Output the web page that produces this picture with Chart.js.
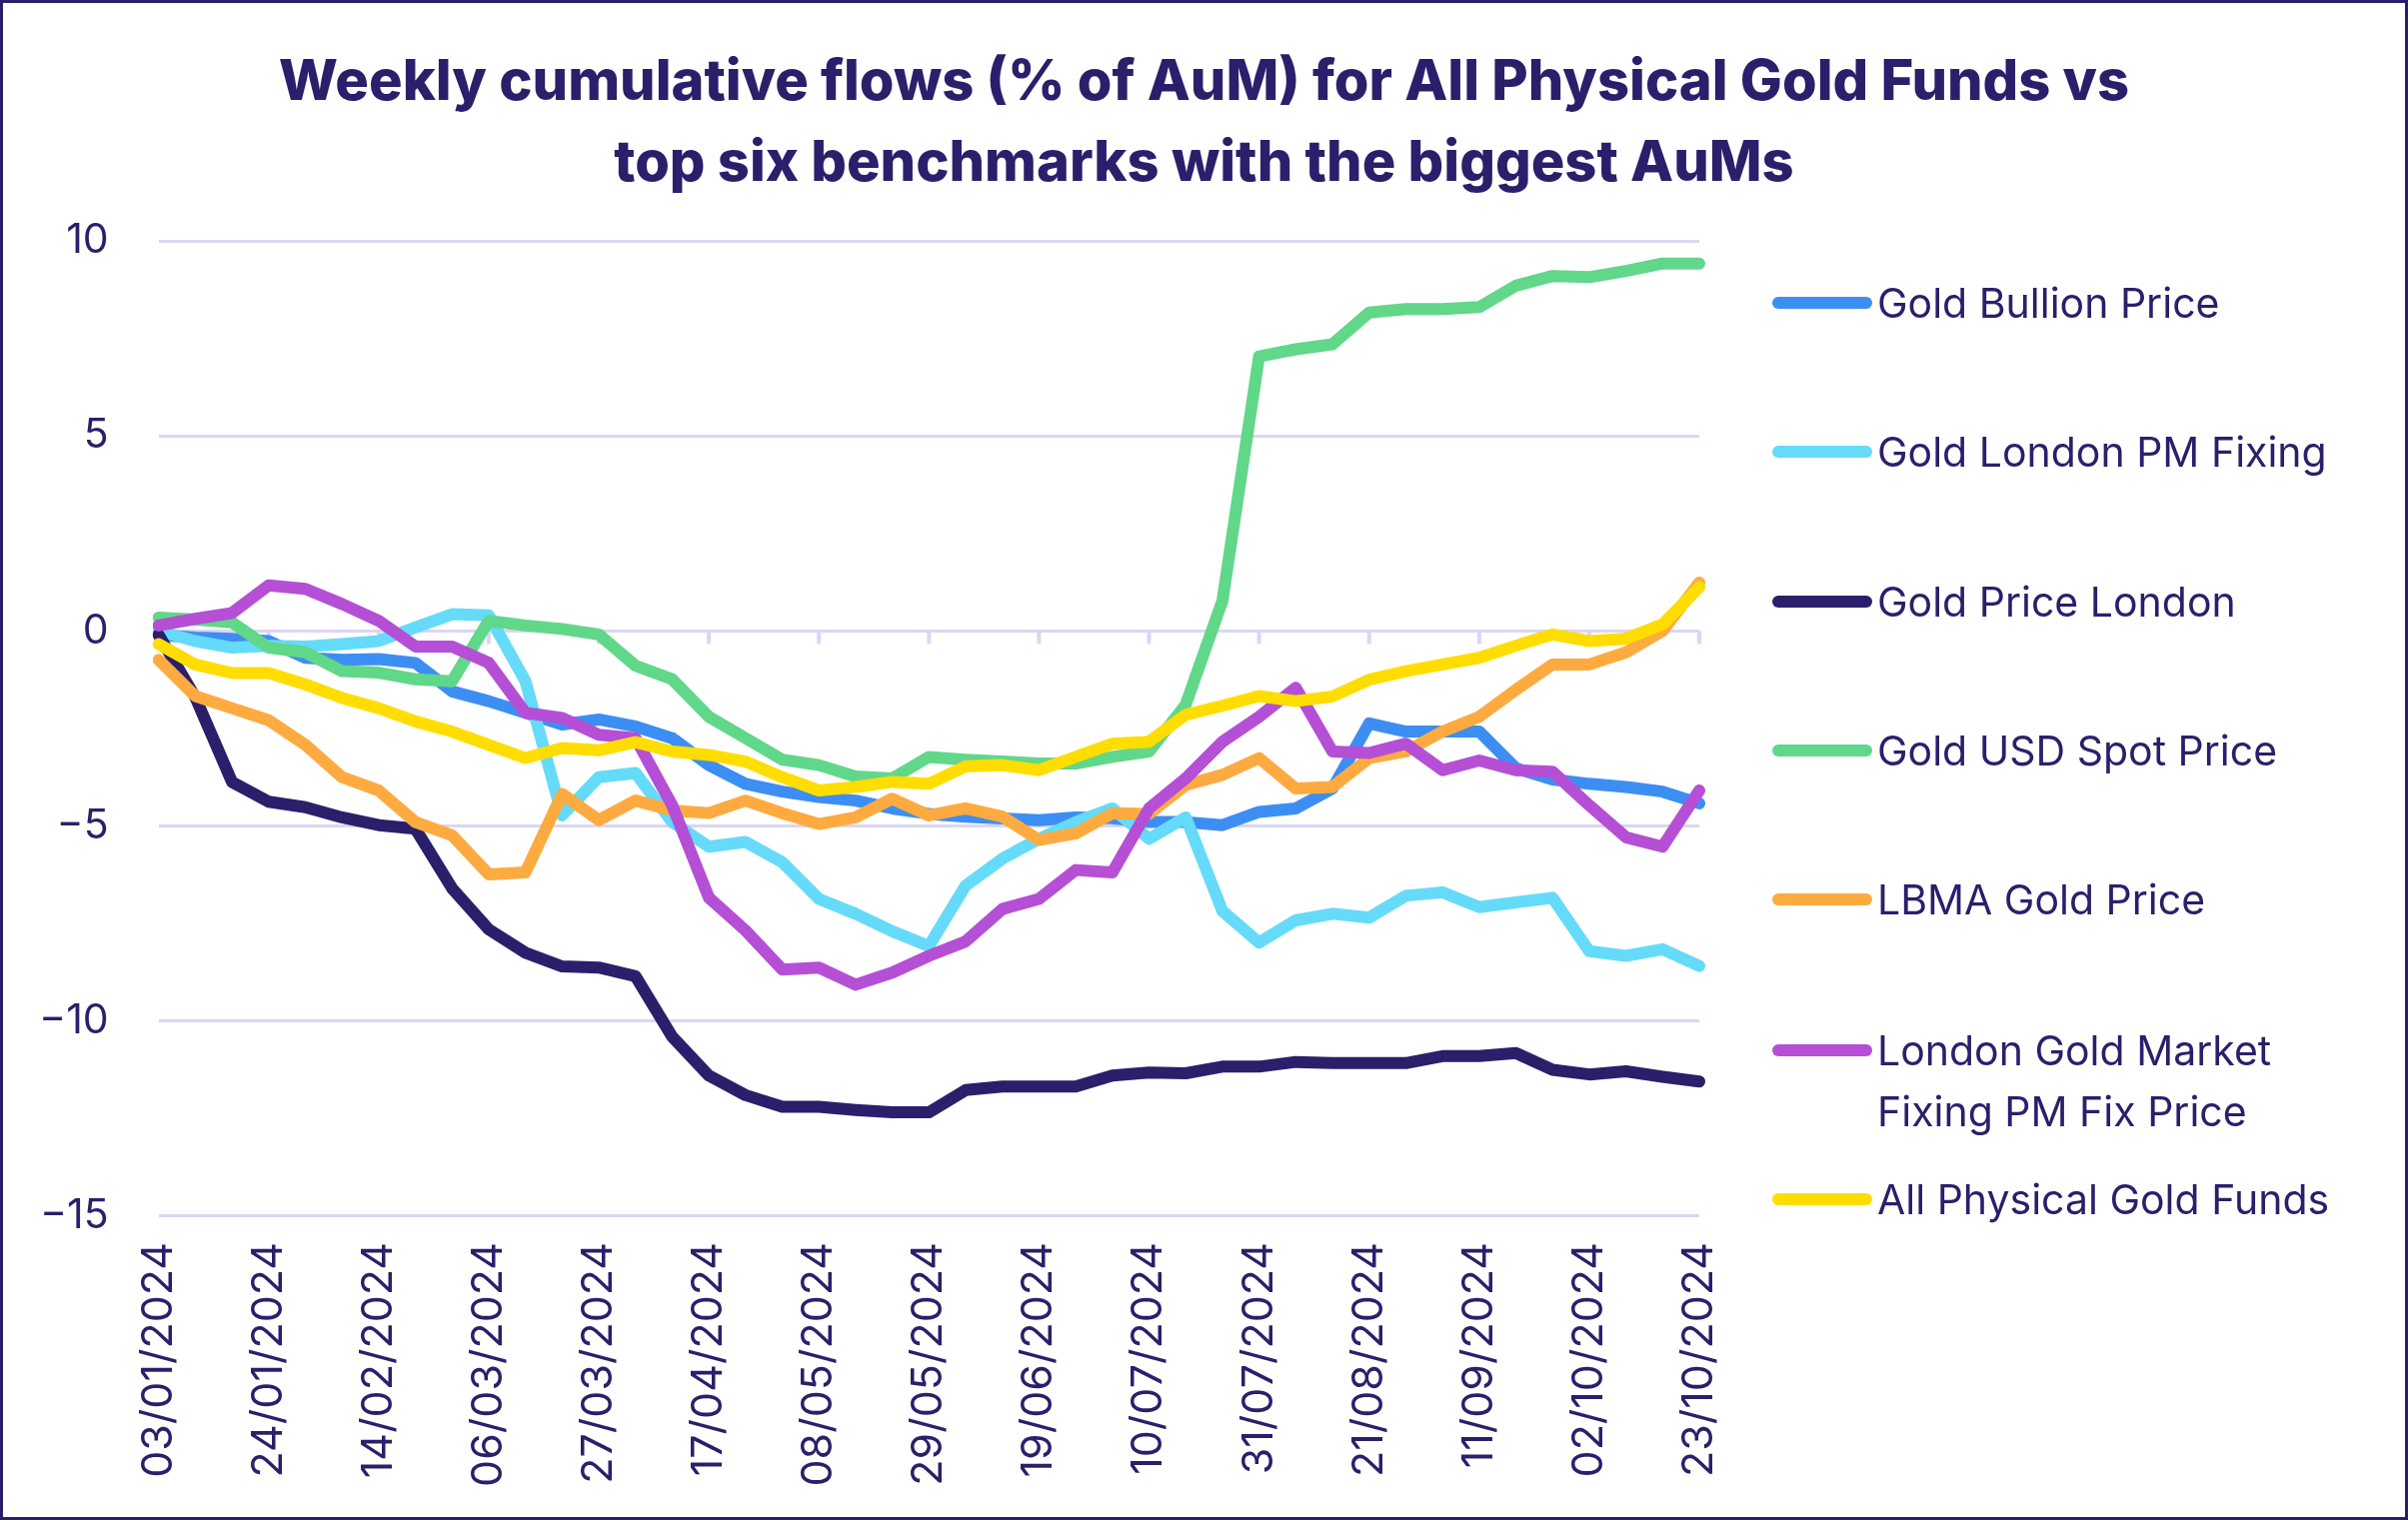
<!DOCTYPE html>
<html>
<head>
<meta charset="utf-8">
<script src="https://cdn.jsdelivr.net/npm/chart.js@4.4.1/dist/chart.umd.min.js"></script>
<style>
  html, body { margin: 0; padding: 0; background: #fff; }
  #wrap { position: relative; width: 2409px; height: 1521px; overflow: hidden; background: #fff; }
  #chartBox { position: absolute; left: 0; top: 0; width: 2409px; height: 1521px; }
  #frame { position: absolute; left: 0; top: 0; width: 2409px; height: 1521px; box-sizing: border-box; border: 3px solid #2B1F6B; pointer-events: none; }
  #title { position: absolute; left: 0; top: 40px; width: 2409px; text-align: center; font-family: Inter, 'Noto Sans', sans-serif;
           font-weight: 800; font-size: 56px; line-height: 81px; color: #2B1F6B; }
  .legItem { position: absolute; left: 1773px; font-family: Inter, 'Noto Sans', sans-serif; font-size: 41px; line-height: 61px; color: #2B1F6B; }
  .legLine { position: absolute; left: 0; top: 24px; width: 100px; height: 12px; border-radius: 6px; }
  .legText { position: absolute; left: 105px; top: 0; white-space: nowrap; }
</style>
</head>
<body>
<div id="wrap">
  <div id="chartBox"><canvas id="flowChart" width="2409" height="1521"></canvas></div>
  <div id="title"></div>
  <div id="legend"></div>
  <div id="frame"></div>
</div>
<script>
const titleLines = ['Weekly cumulative flows (% of AuM) for All Physical Gold Funds vs', 'top six benchmarks with the biggest AuMs'];

const weekLabels = ['03/01/2024','10/01/2024','17/01/2024','24/01/2024','31/01/2024','07/02/2024','14/02/2024','21/02/2024','28/02/2024',
    '06/03/2024','13/03/2024','20/03/2024','27/03/2024','03/04/2024','10/04/2024','17/04/2024','24/04/2024','01/05/2024',
    '08/05/2024','15/05/2024','22/05/2024','29/05/2024','05/06/2024','12/06/2024','19/06/2024','26/06/2024','03/07/2024',
    '10/07/2024','17/07/2024','24/07/2024','31/07/2024','07/08/2024','14/08/2024','21/08/2024','28/08/2024','04/09/2024',
    '11/09/2024','18/09/2024','25/09/2024','02/10/2024','09/10/2024','16/10/2024','23/10/2024'];

const goldBullion = [-0.10,-0.17,-0.20,-0.26,-0.69,-0.74,-0.72,-0.82,-1.55,-1.80,-2.10,-2.40,-2.27,-2.45,-2.75,-3.44,-3.92,-4.12,-4.26,-4.35,-4.55,-4.69,
    -4.76,-4.81,-4.85,-4.78,-4.80,-4.90,-4.90,-4.98,-4.64,-4.55,-4.04,-2.37,-2.58,-2.58,-2.58,-3.52,-3.81,-3.92,-4.00,-4.12,-4.42];
const goldLondonPm = [0.00,-0.26,-0.43,-0.38,-0.40,-0.34,-0.26,0.09,0.43,0.40,-1.29,-4.73,-3.75,-3.64,-4.90,-5.53,-5.41,-5.93,-6.87,-7.25,-7.70,-8.08,
    -6.53,-5.84,-5.33,-4.90,-4.55,-5.33,-4.78,-7.18,-7.99,-7.42,-7.25,-7.35,-6.79,-6.70,-7.08,-6.96,-6.84,-8.21,-8.33,-8.16,-8.59];
const goldPriceLondon = [-0.10,-1.70,-3.87,-4.38,-4.52,-4.78,-4.98,-5.07,-6.60,-7.65,-8.25,-8.60,-8.63,-8.85,-10.40,-11.40,-11.90,-12.20,-12.20,-12.28,-12.34,-12.34,
    -11.77,-11.68,-11.68,-11.68,-11.40,-11.32,-11.34,-11.17,-11.17,-11.05,-11.08,-11.08,-11.08,-10.90,-10.90,-10.82,-11.25,-11.37,-11.29,-11.43,-11.55];
const goldUsdSpot = [0.34,0.29,0.22,-0.43,-0.55,-1.03,-1.07,-1.24,-1.29,0.26,0.14,0.05,-0.09,-0.89,-1.24,-2.20,-2.75,-3.30,-3.44,-3.73,-3.78,-3.23,
    -3.30,-3.35,-3.40,-3.40,-3.23,-3.09,-1.89,0.77,7.04,7.22,7.35,8.16,8.25,8.25,8.30,8.85,9.10,9.07,9.23,9.42,9.42];
const lbmaGold = [-0.74,-1.67,-1.98,-2.29,-2.92,-3.75,-4.09,-4.90,-5.24,-6.24,-6.19,-4.18,-4.85,-4.35,-4.60,-4.67,-4.35,-4.67,-4.95,-4.78,-4.30,-4.73,
    -4.55,-4.76,-5.36,-5.19,-4.67,-4.69,-3.95,-3.69,-3.26,-4.04,-4.00,-3.26,-3.09,-2.58,-2.20,-1.51,-0.86,-0.86,-0.55,0.00,1.24];
const londonFixPm = [0.14,0.31,0.46,1.17,1.08,0.69,0.26,-0.40,-0.40,-0.82,-2.10,-2.23,-2.66,-2.75,-4.47,-6.84,-7.68,-8.68,-8.63,-9.07,-8.76,-8.33,
    -7.96,-7.13,-6.87,-6.13,-6.19,-4.55,-3.78,-2.84,-2.20,-1.46,-3.09,-3.13,-2.89,-3.57,-3.32,-3.57,-3.61,-4.47,-5.29,-5.53,-4.09];
const allPhysical = [-0.34,-0.86,-1.08,-1.08,-1.37,-1.72,-1.98,-2.32,-2.58,-2.92,-3.26,-3.00,-3.06,-2.85,-3.09,-3.18,-3.35,-3.75,-4.09,-4.00,-3.87,-3.92,
    -3.47,-3.44,-3.57,-3.23,-2.89,-2.84,-2.15,-1.92,-1.67,-1.80,-1.68,-1.25,-1.03,-0.86,-0.69,-0.38,-0.09,-0.26,-0.20,0.17,1.12];

const seriesNames = ['Gold Bullion Price', 'Gold London PM Fixing', 'Gold Price London', 'Gold USD Spot Price',
    'LBMA Gold Price', ['London Gold Market', 'Fixing PM Fix Price'], 'All Physical Gold Funds'];
const seriesValues = [goldBullion, goldLondonPm, goldPriceLondon, goldUsdSpot, lbmaGold, londonFixPm, allPhysical];
const seriesColors = ['#3D8EF2', '#66DAF9', '#2B1F6B', '#61D789', '#FDAB41', '#B54FD6', '#FFDD00'];
const yTickValues = [10, 5, 0, -5, -10, -15];

const navy = '#2B1F6B';
const gridColor = '#DAD6F2';

// small tick marks hanging under the zero line, every third week
const zeroTicks = {
    id: 'zeroTicks',
    beforeDatasetsDraw(chart) {
        const x = chart.scales.x, y = chart.scales.y;
        const ctx = chart.ctx;
        const y0 = y.getPixelForValue(0);
        ctx.save();
        ctx.fillStyle = gridColor;
        for (let i = 0; i < weekLabels.length; i += 3) {
            const px = x.getPixelForValue(i);
            ctx.fillRect(px - 2, y0, 4, 13);
        }
        ctx.restore();
    }
};

let datasets = [];
for (let i = 0; i < seriesValues.length; i++) {
    datasets.push({
        label: Array.isArray(seriesNames[i]) ? seriesNames[i].join(' ') : seriesNames[i],
        data: seriesValues[i],
        borderColor: seriesColors[i],
        backgroundColor: seriesColors[i],
        borderWidth: 12,
        borderJoinStyle: 'round',
        borderCapStyle: 'round',
        pointRadius: 0,
        tension: 0,
        order: seriesValues.length - i
    });
}

document.getElementById('title').innerHTML = titleLines.join('<br>');

new Chart('flowChart', {
    type: 'line',
    data: { labels: weekLabels, datasets: datasets },
    plugins: [zeroTicks],
    options: {
        responsive: false,
        animation: false,
        devicePixelRatio: 1,
        layout: { padding: { left: -11, right: 709, top: 241, bottom: 15 } },
        plugins: {
            legend: { display: false },
            tooltip: { enabled: false },
            title: { display: false }
        },
        scales: {
            x: {
                grid: { display: false },
                border: { display: false },
                ticks: {
                    autoSkip: false,
                    maxRotation: 90,
                    minRotation: 90,
                    padding: 18,
                    color: navy,
                    font: { family: 'Inter', size: 43 },
                    callback: function(value, index) { return index % 3 === 0 ? weekLabels[index] : ''; }
                }
            },
            y: {
                min: -15,
                max: 10,
                afterBuildTicks: function(axis) { axis.ticks = yTickValues.map(v => ({ value: v })); },
                grid: { color: gridColor, lineWidth: 3, drawTicks: false },
                border: { display: false },
                ticks: {
                    padding: 50,
                    color: navy,
                    font: { family: 'Inter', size: 41 },
                    callback: function(value) { return value < 0 ? '\u2212' + Math.abs(value) : String(value); }
                }
            }
        }
    }
});

// legend on the right, same order as the series
const legendTops = [273, 422, 572, 721, 870, 1021, 1170];
const legendBox = document.getElementById('legend');
for (let i = 0; i < seriesNames.length; i++) {
    const item = document.createElement('div');
    item.className = 'legItem';
    item.style.top = legendTops[i] + 'px';
    const line = document.createElement('div');
    line.className = 'legLine';
    line.style.background = seriesColors[i];
    const txt = document.createElement('div');
    txt.className = 'legText';
    txt.innerHTML = Array.isArray(seriesNames[i]) ? seriesNames[i].join('<br>') : seriesNames[i];
    item.appendChild(line);
    item.appendChild(txt);
    legendBox.appendChild(item);
}
</script>
</body>
</html>
